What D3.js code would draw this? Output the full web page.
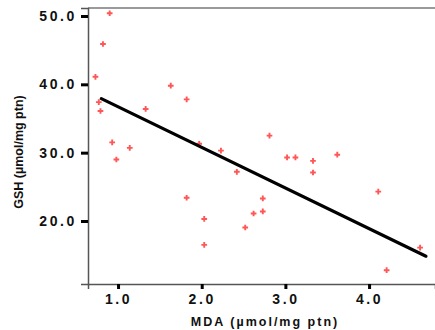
<!DOCTYPE html>
<html>
<head>
<meta charset="utf-8">
<script src="https://cdn.jsdelivr.net/npm/d3@7"></script>
<style>
  body { margin: 0; background: #fff; }
  svg { display: block; font-family: "Liberation Sans", Arial, sans-serif; }
</style>
</head>
<body>
<svg id="chart"></svg>
<script>
// MDA (x) vs GSH (y)
const MDA = [0.90, 0.82, 0.73, 0.77, 0.79, 1.33, 0.93, 1.14, 0.98, 1.63,
             1.82, 1.97, 2.23, 2.42, 1.82, 2.03, 2.03, 2.81, 3.02, 3.12,
             3.33, 3.33, 2.73, 2.62, 2.73, 2.52, 3.62, 4.11, 4.21, 4.61];
const GSH = [50.4, 45.9, 41.1, 37.4, 36.1, 36.4, 31.5, 30.7, 29.0, 39.8,
             37.8, 31.3, 30.3, 27.2, 23.4, 20.3, 16.5, 32.5, 29.3, 29.3,
             28.8, 27.1, 23.3, 21.1, 21.4, 19.05, 29.7, 24.3, 12.8, 16.1];

// fitted line end points
const FIT_X = [0.80, 4.68];
const FIT_Y = [37.9, 14.85];

const X_TICKS = [1, 2, 3, 4];
const Y_TICKS = [20, 30, 40, 50];

const width = 435, height = 330;
const margin = {top: 8, right: 0, bottom: 46, left: 88};

var svg = d3.select("#chart")
  .attr("width", width)
  .attr("height", height);

var x = d3.scaleLinear()
  .domain([0.641, 4.788])
  .range([margin.left, width - margin.right]);

var y = d3.scaleLinear()
  .domain([10.78, 51.17])
  .range([height - margin.bottom, margin.top]);

/********* frame ***********/
svg.append("line")
  .attr("x1", margin.left).attr("x2", width)
  .attr("y1", margin.top).attr("y2", margin.top)
  .attr("stroke", "#9a9a9a").attr("stroke-width", 2);

/********* y axis ***********/
var yAxis = svg.append("g")
  .attr("transform", "translate(" + margin.left + ",0)")
  .call(d3.axisLeft(y).tickValues(Y_TICKS).tickFormat(d3.format(".1f")).tickSize(7).tickPadding(4));
yAxis.select(".domain").attr("stroke", "#555").attr("stroke-width", 1.5);
yAxis.selectAll(".tick line").attr("stroke", "#000").attr("stroke-width", 3);
yAxis.selectAll(".tick text")
  .attr("fill", "#111")
  .style("font-size", "14px")
  .style("font-weight", "bold")
  .style("letter-spacing", "2.6px");

/********* x axis ***********/
var xAxis = svg.append("g")
  .attr("transform", "translate(0," + (height - margin.bottom) + ")")
  .call(d3.axisBottom(x).tickValues(X_TICKS).tickFormat(d3.format(".1f")).tickSize(5).tickPadding(5));
xAxis.select(".domain").attr("stroke", "#555").attr("stroke-width", 1.5);
xAxis.selectAll(".tick line").attr("stroke", "#000").attr("stroke-width", 3);
xAxis.selectAll(".tick text")
  .attr("fill", "#111")
  .style("font-size", "14px")
  .style("font-weight", "bold")
  .style("letter-spacing", "2.6px");

/********* axis titles ***********/
svg.append("text")
  .attr("transform", "translate(" + 265 + "," + 326 + ")")
  .style("text-anchor", "middle")
  .style("font-size", "12.5px")
  .style("font-weight", "bold")
  .style("letter-spacing", "2px")
  .attr("fill", "#111")
  .text("MDA (µmol/mg ptn)");

svg.append("text")
  .attr("transform", "translate(" + 23 + "," + 152 + ") rotate(-90)")
  .style("text-anchor", "middle")
  .style("font-size", "12.5px")
  .style("font-weight", "bold")
  .attr("fill", "#111")
  .text("GSH (µmol/mg ptn)");

/********* points ***********/
var data = MDA.map(function(d, i) { return {mda: d, gsh: GSH[i]}; });

svg.append("g").selectAll("path")
  .data(data)
  .enter()
  .append("path")
    .attr("d", d3.symbol().type(d3.symbolCross).size(18))
    .attr("transform", function(d) { return "translate(" + x(d.mda) + "," + y(d.gsh) + ")"; })
    .attr("fill", "#ff3a3a")
    .attr("opacity", 0.85);

/********* fit line ***********/
var fit = FIT_X.map(function(d, i) { return {mda: d, gsh: FIT_Y[i]}; });
svg.append("path")
  .datum(fit)
  .attr("d", d3.line()
    .x(function(d) { return x(d.mda); })
    .y(function(d) { return y(d.gsh); }))
  .attr("stroke", "#000")
  .attr("stroke-width", 3.2)
  .attr("stroke-linecap", "round")
  .attr("fill", "none");
</script>
</body>
</html>
